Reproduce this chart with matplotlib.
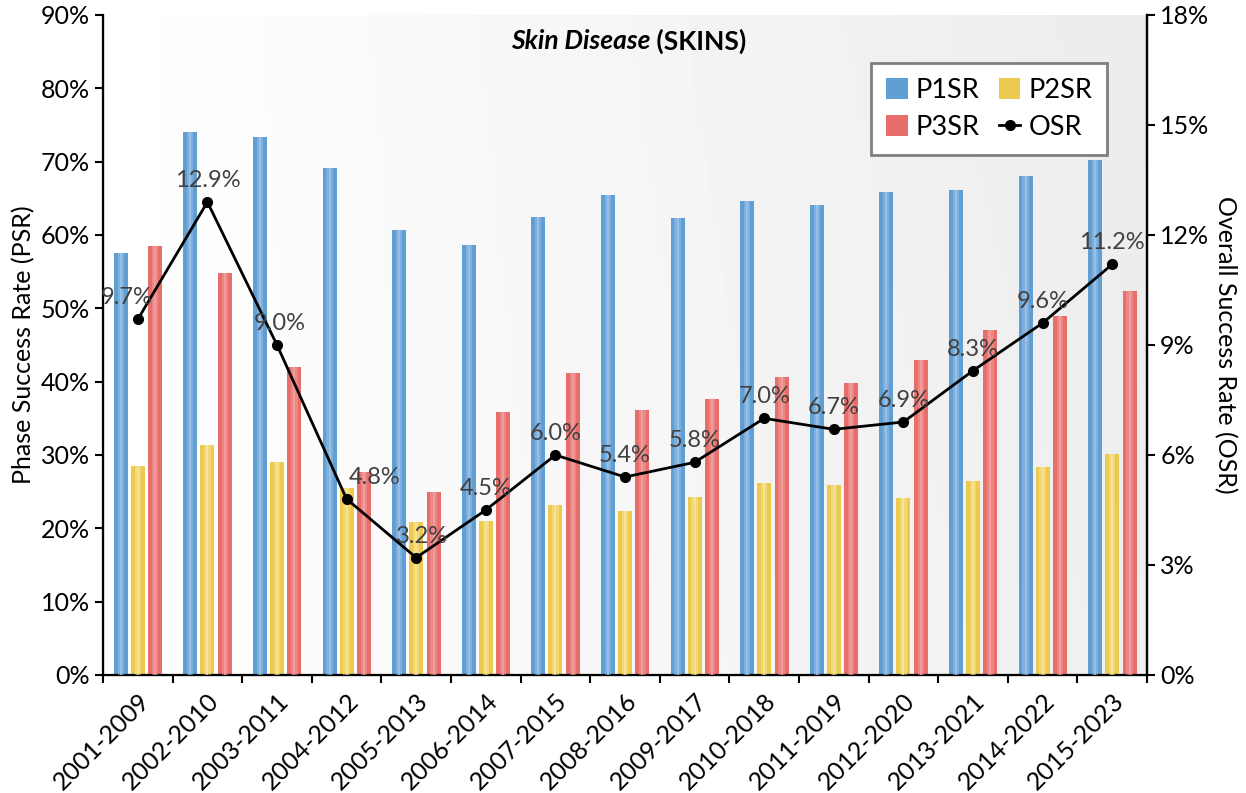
import matplotlib
matplotlib.use("Agg")
import matplotlib.pyplot as plt
import numpy as np
from matplotlib.ticker import FuncFormatter, MultipleLocator

plt.rcParams['font.family'] = ['Lato', 'DejaVu Sans']

# data
categories = ['2001-2009', '2002-2010', '2003-2011', '2004-2012', '2005-2013',
              '2006-2014', '2007-2015', '2008-2016', '2009-2017', '2010-2018',
              '2011-2019', '2012-2020', '2013-2021', '2014-2022', '2015-2023']
p1sr = [57.6, 74.0, 73.4, 69.1, 60.7, 58.6, 62.5, 65.4, 62.3, 64.7, 64.1, 65.8, 66.1, 68.1, 70.2]
p2sr = [28.5, 31.4, 29.0, 25.5, 20.9, 21.0, 23.2, 22.4, 24.3, 26.2, 25.9, 24.2, 26.5, 28.4, 30.1]
p3sr = [58.5, 54.8, 42.0, 27.7, 24.9, 35.9, 41.2, 36.2, 37.7, 40.7, 39.8, 43.0, 47.0, 49.0, 52.3]
osr = [9.7, 12.9, 9.0, 4.8, 3.2, 4.5, 6.0, 5.4, 5.8, 7.0, 6.7, 6.9, 8.3, 9.6, 11.2]

# base colour, light stripe colour
bar_styles = {
    'P1SR': ('#5f9fd4', '#a6c6ea'),
    'P2SR': ('#ecca4f', '#fbe8a2'),
    'P3SR': ('#e86e6b', '#f4a7a5'),
}

fig = plt.figure(figsize=(12.46, 7.93), dpi=100)
ax = fig.add_subplot(111)
fig.subplots_adjust(left=103/1246, right=1147/1246, bottom=1-675/793, top=1-15/793)

# soft grey gradient background
gx, gy = np.meshgrid(np.linspace(0, 1, 200), np.linspace(0, 1, 200))
grad = 1.0 - 0.065 * gx - 0.012 * gy * gx
ax.imshow(grad, extent=(0, 1, 0, 1), transform=ax.transAxes, cmap='gray',
          vmin=0, vmax=1, aspect='auto', zorder=0, origin='lower')

x = np.arange(len(categories))
bar_width = 0.2
offsets = {'P1SR': -0.245, 'P2SR': 0.0, 'P3SR': 0.25}
series = {'P1SR': p1sr, 'P2SR': p2sr, 'P3SR': p3sr}

handles = {}
for name, vals in series.items():
    base, light = bar_styles[name]
    pos = x + offsets[name]
    handles[name] = ax.bar(pos, vals, bar_width, color=base, zorder=2, label=name)
    # cylinder-ish highlight
    ax.bar(pos, vals, bar_width * 0.45, color=light, alpha=0.45, zorder=3)
    ax.bar(pos, vals, bar_width * 0.15, color=light, alpha=0.7, zorder=3)

ax.set_xlim(-0.5, len(categories) - 0.5)
ax.set_ylim(0, 90)
ax.yaxis.set_major_locator(MultipleLocator(10))
ax.yaxis.set_major_formatter(FuncFormatter(lambda v, p: f"{v:.0f}%"))
ax.set_ylabel('Phase Success Rate (PSR)', fontsize=18, labelpad=4)

ax.set_xticks(x)
ax.set_xticklabels(categories, rotation=45, ha='right', rotation_mode='anchor', fontsize=18)
ax.set_xticks(np.arange(-0.5, len(categories)), minor=True)
ax.tick_params(axis='x', which='major', length=0, pad=10)
ax.tick_params(axis='x', which='minor', length=6, width=1.5, direction='out')
ax.tick_params(axis='y', labelsize=18, length=6, width=1.5, direction='out')

for s in ['left', 'bottom', 'right']:
    ax.spines[s].set_linewidth(1.6)
ax.spines['top'].set_visible(False)

ax2 = ax.twinx()
line, = ax2.plot(x, osr, color='black', lw=2, marker='o', markersize=7, zorder=5, label='OSR')
ax2.set_ylim(0, 18)
ax2.yaxis.set_major_locator(MultipleLocator(3))
ax2.yaxis.set_major_formatter(FuncFormatter(lambda v, p: f"{v:.0f}%"))
ax2.tick_params(axis='y', labelsize=18, length=6, width=1.5, direction='out')
ax2.set_ylabel('Overall Success Rate (OSR)', fontsize=18, rotation=270, labelpad=20)
ax2.spines['top'].set_visible(False)
ax2.spines['right'].set_linewidth(1.6)

label_dx = [-8, 0, 2, 20, 4, 0, 0, 0, 0, 0, 0, 0, 0, 0, 0]
for i, v in enumerate(osr):
    ax2.annotate(f"{v:.1f}%", (x[i], v), textcoords='offset points',
                 xytext=(label_dx[i], 8), ha='center', va='bottom',
                 fontsize=17, color='#404040', zorder=6)

t1 = ax.text(0.524, 0.96, 'Skin Disease', transform=ax.transAxes, ha='right', va='center',
             fontsize=19, fontweight='bold', fontstyle='italic')
ax.annotate(' (SKINS)', xy=(1, 0.5), xycoords=t1, ha='left', va='center',
            fontsize=19, fontweight='bold')

leg = ax2.legend([handles['P1SR'], handles['P3SR'], handles['P2SR'], line],
                 ['P1SR', 'P3SR', 'P2SR', 'OSR'], ncol=2, loc='upper right',
                 bbox_to_anchor=(0.962, 0.927), borderaxespad=0, fontsize=19.5,
                 frameon=True, fancybox=False, handlelength=0.8, handleheight=0.8,
                 columnspacing=0.7, handletextpad=0.3, borderpad=0.55, labelspacing=0.45)
leg.get_frame().set_edgecolor('#7f7f7f')
leg.get_frame().set_linewidth(2)
leg.get_frame().set_alpha(1)

fig.savefig('out.png', dpi=100)
